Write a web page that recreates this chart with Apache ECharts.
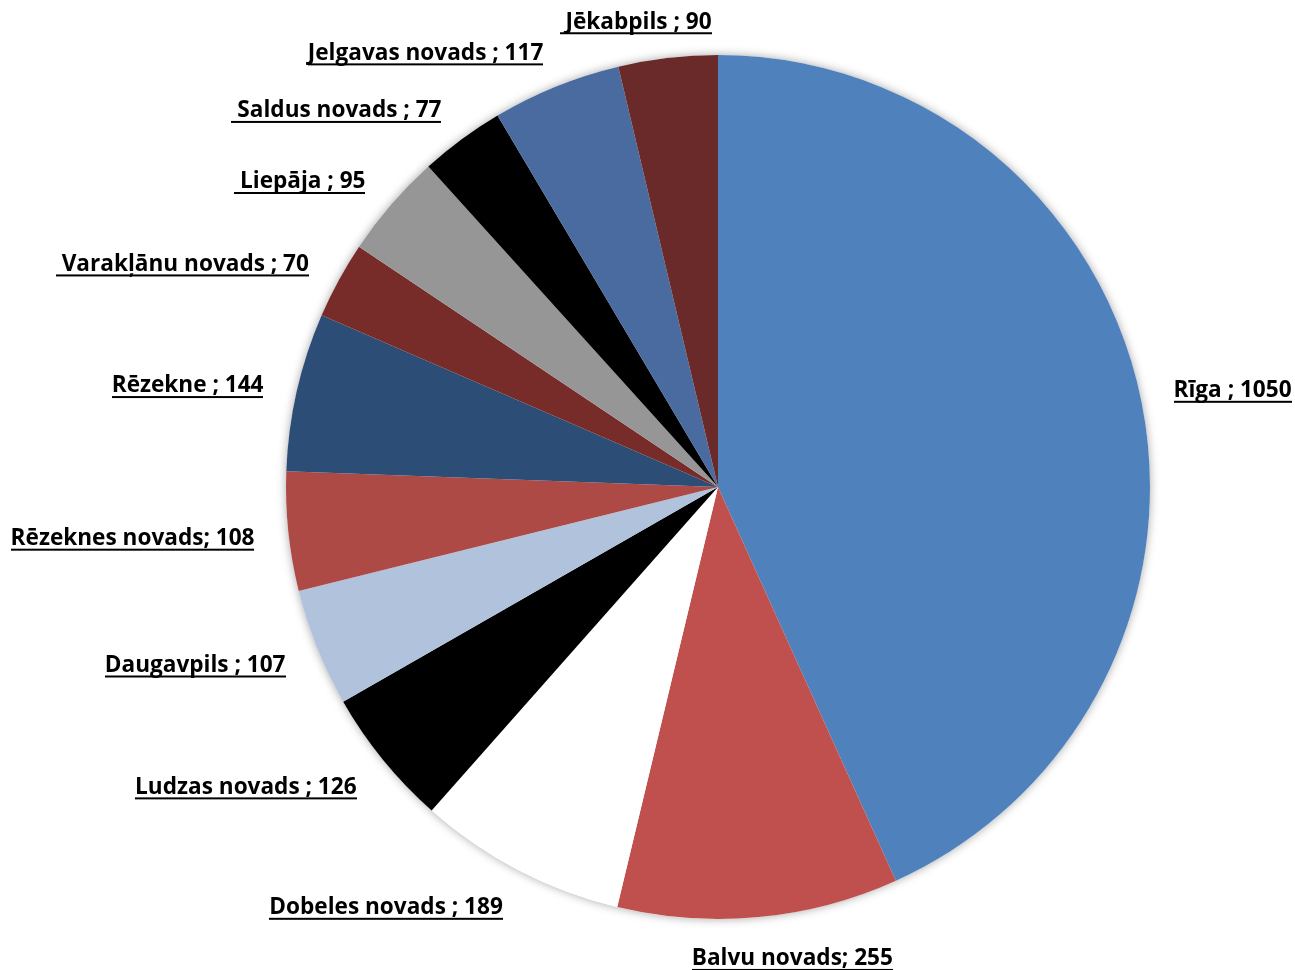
<!DOCTYPE html>
<html>
<head>
<meta charset="utf-8">
<script src="https://cdn.jsdelivr.net/npm/echarts@6/dist/echarts.min.js"></script>
<style>
html,body{margin:0;padding:0;background:#fff;}
#chart{width:1295px;height:970px;}
</style>
</head>
<body>
<div id="chart"></div>
<script>
var categories = ["Rīga ", "Balvu novads", "Dobeles novads ", "Ludzas novads ", "Daugavpils ", "Rēzeknes novads", "Rēzekne ", " Varakļānu novads ", " Liepāja ", " Saldus novads ", "Jelgavas novads ", " Jēkabpils "];
var values = [1050, 255, 189, 126, 107, 108, 144, 70, 95, 77, 117, 90];
var colors = ["#4F81BD", "#C0504D", "#FFFFFF", "#000000", "#B1C2DC", "#AE4A45", "#2C4D75", "#772C2A", "#969696", "#000000", "#4A6BA0", "#6B2A2A"];

var CX = 718, CY = 487, R = 432, GAP = 34;
var FONT_SIZE = 22.6, FONT_FAMILY = 'Open Sans';

// underline image: stretched across each label box
var ul = document.createElement('canvas');
ul.width = 4; ul.height = 26;
var uctx = ul.getContext('2d');
uctx.fillStyle = '#000';
uctx.fillRect(0, 23, 4, 2);

// text measurement
var mctx = document.createElement('canvas').getContext('2d');
mctx.font = 'bold ' + FONT_SIZE + 'px "' + FONT_FAMILY + '"';
function labelText(name, value){ return name + '; ' + value; }

var total = values.reduce(function(a, b){ return a + b; }, 0);
var mids = [];
var acc = 0;
for (var i = 0; i < values.length; i++) {
  mids.push((acc + values[i] / 2) / total * 2 * Math.PI);
  acc += values[i];
}

var chart = echarts.init(document.getElementById('chart'));
chart.setOption({
  animation: false,
  backgroundColor: '#fff',
  series: [
    {
      type: 'pie',
      silent: true,
      center: [CX, CY],
      radius: [0, R],
      z: 1,
      data: [{ value: 1, name: 'bg' }],
      label: { show: false },
      labelLine: { show: false },
      itemStyle: { color: '#fff', shadowBlur: 10, shadowColor: 'rgba(0,0,0,0.35)' }
    },
    {
      type: 'pie',
      z: 2,
      center: [CX, CY],
      radius: [0, R],
      startAngle: 90,
      clockwise: true,
      avoidLabelOverlap: false,
      data: categories.map(function(c, i){ return { name: c, value: values[i], itemStyle: { color: colors[i] } }; }),
      itemStyle: { borderWidth: 0 },
      labelLine: { show: false },
      label: {
        show: true,
        position: 'outside',
        overflow: 'none',
        formatter: function(p){ return labelText(p.name, p.value); },
        fontFamily: FONT_FAMILY,
        fontWeight: 'bold',
        fontSize: FONT_SIZE,
        color: '#000',
        lineHeight: 26,
        padding: 0,
        backgroundColor: { image: ul }
      },
      labelLayout: function(params){
        var idx = params.dataIndex;
        var a = mids[idx];
        var s = Math.sin(a), c = Math.cos(a);
        var px = CX + (R + GAP) * s;
        var py = CY - (R + GAP) * c;
        var w = mctx.measureText(labelText(categories[idx], values[idx])).width;
        var f = Math.max(0, Math.min(1, 0.5 - 1.6 * s));
        var left = px - f * w;
        var x = left;
        if (params.align === 'right') x = left + w;
        else if (params.align === 'center') x = left + w / 2;
        return { x: x, y: py + 3 - 5 * c, verticalAlign: 'middle' };
      }
    }
  ]
});
</script>
</body>
</html>
